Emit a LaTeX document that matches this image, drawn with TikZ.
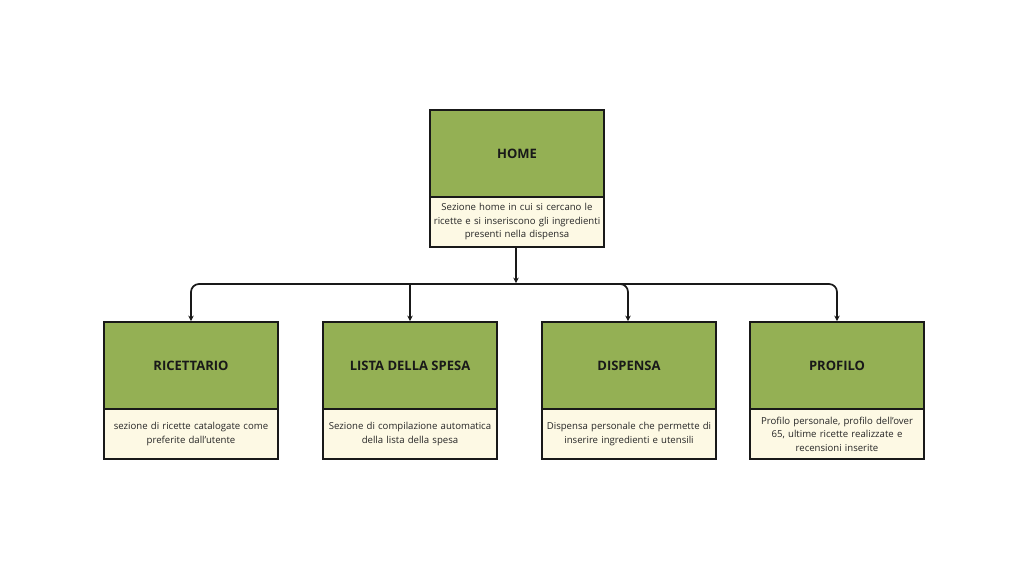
\documentclass[tikz,border=0pt]{standalone}
\usepackage{fontspec}
\setmainfont{Open Sans}
\usetikzlibrary{arrows.meta}
\definecolor{titlegreen}{RGB}{148,176,84}
\definecolor{desccream}{RGB}{253,249,228}
\tikzset{
  titlebox/.style={draw=black!90, line width=1.8pt, outer sep=0pt, fill=titlegreen, minimum width=174pt, minimum height=87pt, inner sep=0pt, font=\fontsize{13}{15}\selectfont\bfseries, text=black!90},
  descbox/.style={draw=black!90, line width=1.8pt, outer sep=0pt, fill=desccream, minimum width=174pt, minimum height=50pt, inner sep=0pt, align=center, text width=172pt, font=\fontsize{9.6}{13.5}\selectfont, text=black!85},
  conn/.style={line width=1.7pt, draw=black!90, rounded corners=8pt, -{Stealth[length=5.5pt,width=5.5pt]}, shorten >=0.9pt}
}
\begin{document}
\begin{tikzpicture}[x=1pt,y=-1pt]
\useasboundingbox[fill=white] (0,0) rectangle (1024,573);
% HOME
\node[titlebox, anchor=north west] (home) at (430,110) {HOME};
\node[descbox, anchor=north] (homed) at (home.south) {Sezione home in cui si cercano le\\ricette e si inseriscono gli ingredienti\\presenti nella dispensa};
% children
\node[titlebox, anchor=north west] (ric) at (104,322) {RICETTARIO};
\node[descbox, anchor=north] (ricd) at (ric.south) {sezione di ricette catalogate come\\preferite dall'utente};
\node[titlebox, anchor=north west] (lista) at (323,322) {LISTA DELLA SPESA};
\node[descbox, anchor=north] (listad) at (lista.south) {Sezione di compilazione automatica\\della lista della spesa};
\node[titlebox, anchor=north west] (disp) at (542,322) {DISPENSA};
\node[descbox, anchor=north] (dispd) at (disp.south) {Dispensa personale che permette di\\inserire ingredienti e utensili};
\node[titlebox, anchor=north west] (prof) at (750,322) {PROFILO};
\node[descbox, anchor=north] (profd) at (prof.south) {Profilo personale, profilo dell'over\\65, ultime ricette realizzate e\\recensioni inserite};
% connectors
\coordinate (j) at (516,284);
\draw[conn] ([yshift=0.9pt]homed.south -| j) -- (j);
\draw[conn] (j) -| (191,322) coordinate (ricin);
\draw[conn] (lista.north |- j) -- (lista.north);
\draw[conn] (j) -| (628,322) coordinate (dispin);
\draw[conn] (j) -| (837,322) coordinate (profin);
\end{tikzpicture}
\end{document}
